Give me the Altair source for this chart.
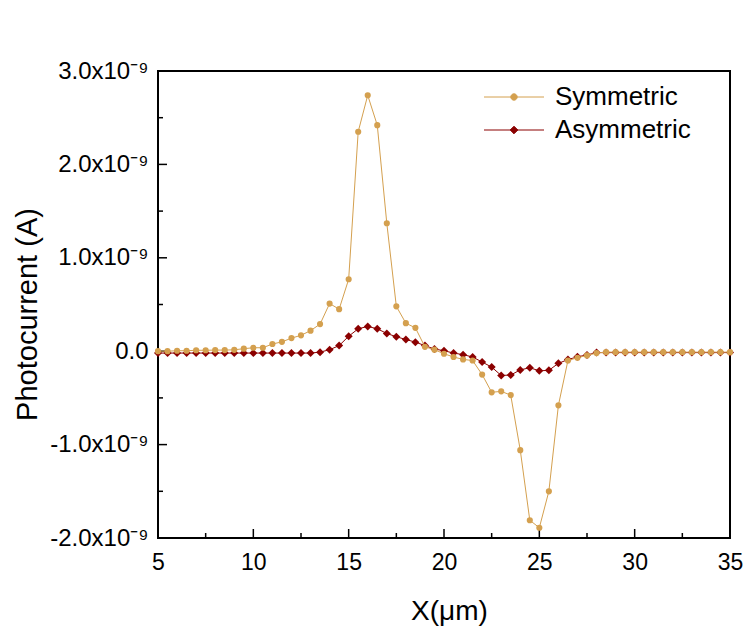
import altair as alt
import pandas as pd

# ---- data (values in units of 1e-9 A) ----
x_um = [5 + 0.5 * i for i in range(61)]
symmetric_e9 = [
    0.0, 0.0, 0.005, 0.005, 0.01, 0.01, 0.012, 0.012, 0.015, 0.027,
    0.037, 0.037, 0.077, 0.10, 0.14, 0.17, 0.22, 0.29, 0.51, 0.45,
    0.77, 2.35, 2.74, 2.42, 1.37, 0.48, 0.30, 0.25, 0.047, 0.016,
    -0.027, -0.062, -0.088, -0.10, -0.25, -0.44, -0.43, -0.47, -1.06, -1.81,
    -1.89, -1.50, -0.58, -0.10, -0.07, -0.045, -0.02,
    -0.01, -0.01, -0.01, -0.01, -0.01, -0.01, -0.01, -0.01, -0.01, -0.01,
    -0.01, -0.01, -0.01, -0.01,
]
asymmetric_e9 = [
    -0.02, -0.02, -0.02, -0.02, -0.02, -0.02, -0.02, -0.02, -0.02, -0.02,
    -0.02, -0.02, -0.02, -0.02, -0.02, -0.02, -0.02, -0.01,
    0.016, 0.06, 0.16, 0.24, 0.265, 0.24, 0.19, 0.155, 0.125, 0.097,
    0.06, 0.023, 0.005, -0.02, -0.037, -0.062, -0.116, -0.17, -0.26, -0.255,
    -0.20, -0.177, -0.21, -0.205, -0.13, -0.09, -0.06, -0.04,
    -0.015, -0.015, -0.015, -0.015, -0.015, -0.015, -0.015, -0.015, -0.015,
    -0.015, -0.015, -0.015, -0.015, -0.015, -0.015,
]
SERIES = ["Symmetric", "Asymmetric"]
COLORS = ["#D4A04F", "#8B0000"]
x_major = [5, 10, 15, 20, 25, 30, 35]
x_minor = [7.5, 12.5, 17.5, 22.5, 27.5, 32.5]
y_major_e9 = [-2, -1, 0, 1, 2, 3]
y_minor_e9 = [-1.5, -0.5, 0.5, 1.5, 2.5]

rows = []
for s, vals in ((SERIES[0], symmetric_e9), (SERIES[1], asymmetric_e9)):
    for xv, v in zip(x_um, vals):
        rows.append({"x": xv, "y": v * 1e-9, "series": s})
df = pd.DataFrame(rows)

FONT = "Liberation Sans"
W, H = 572, 467

xscale = alt.Scale(domain=[5, 35], nice=False, zero=False)
yscale = alt.Scale(domain=[-2e-9, 3e-9], nice=False, zero=False)

XAX = alt.Axis(
    values=x_major, title="X(μm)", ticks=False, tickSize=0, domain=False, grid=False,
    labelFontSize=23, labelPadding=13, labelFont=FONT, labelColor="black",
    labelFlush=False, format="d",
    titleFontSize=28, titleFont=FONT, titleFontWeight="normal", titleColor="black",
    titleX=291, titleY=81, titleBaseline="alphabetic", titleAlign="center",
)
YAX = alt.Axis(
    values=[v * 1e-9 for v in y_major_e9], title="Photocurrent (A)",
    ticks=False, tickSize=0, domain=False, grid=False,
    labelExpr="datum.value == 0 ? '0.0' : (datum.value < 0 ? '-' : '') + format(abs(datum.value) * 1e9, '.1f') + 'x10⁻⁹'",
    labelFontSize=24, labelPadding=10, labelFont=FONT, labelColor="black", labelFlush=False,
    titleFontSize=29, titleFont=FONT, titleFontWeight="normal", titleColor="black",
    titleX=-122, titleY=243, titleBaseline="alphabetic", titleAlign="center", titleAngle=270,
)

color_scale = alt.Scale(domain=SERIES, range=COLORS)
X = alt.X("x:Q", scale=xscale, axis=XAX)
Y = alt.Y("y:Q", scale=yscale, axis=YAX)

base = alt.Chart(df)


def series_layers(name, shape, size):
    d = base.transform_filter(alt.datum.series == name)
    line = d.mark_line(strokeWidth=1).encode(
        x=X, y=Y, color=alt.Color("series:N", scale=color_scale, legend=None)
    )
    pts = d.mark_point(filled=True, shape=shape, size=size, opacity=1).encode(
        x=X, y=Y, color=alt.Color("series:N", scale=color_scale, legend=None)
    )
    return [line, pts]


# legend (symbols: line with marker); the layer's own marks are invisible
circ = "M-6,0H6M-0.64,0A0.64,0.64,0,1,1,0.64,0A0.64,0.64,0,1,1,-0.64,0Z"
diam = "M-6,0H6M0,-0.76L0.76,0L0,0.76L-0.76,0Z"
LEG = alt.Legend(
    orient="none", legendX=343, legendY=13, title=None, padding=0,
    labelFontSize=26, labelFont=FONT, labelColor="black", labelOffset=28,
    symbolSize=100, symbolStrokeWidth=1, symbolOpacity=1, rowPadding=7,
)
legend_layer = base.mark_point(opacity=0, strokeWidth=1, size=100).encode(
    x=X, y=Y,
    fill=alt.Fill("series:N", scale=alt.Scale(domain=SERIES, range=COLORS), legend=LEG),
    stroke=alt.Stroke("series:N", scale=alt.Scale(domain=SERIES, range=COLORS), legend=LEG),
    shape=alt.Shape("series:N", scale=alt.Scale(domain=SERIES, range=[circ, diam]), legend=LEG),
)

# inward ticks
xmaj = alt.Chart(pd.DataFrame({"x": x_major})).mark_rule(color="black", strokeWidth=1.5).encode(
    x=X, y=alt.value(H), y2=alt.value(H - 9))
xmin = alt.Chart(pd.DataFrame({"x": x_minor})).mark_rule(color="black", strokeWidth=1.5).encode(
    x=X, y=alt.value(H), y2=alt.value(H - 5))
ymaj = alt.Chart(pd.DataFrame({"y": [v * 1e-9 for v in y_major_e9]})).mark_rule(color="black", strokeWidth=1.5).encode(
    y=Y, x=alt.value(0), x2=alt.value(9))
ymin = alt.Chart(pd.DataFrame({"y": [v * 1e-9 for v in y_minor_e9]})).mark_rule(color="black", strokeWidth=1.5).encode(
    y=Y, x=alt.value(0), x2=alt.value(5))

layers = [legend_layer, xmaj, xmin, ymaj, ymin]
layers += series_layers("Asymmetric", "diamond", 64)
layers += series_layers("Symmetric", "circle", 38)

chart = alt.layer(*layers).properties(
    width=W, height=H,
    autosize=alt.AutoSizeParams(type="none"),
    padding={"left": 150, "top": 63, "right": 15, "bottom": 88},
    background="white",
).configure_view(stroke="black", strokeWidth=2)

chart.save("out.html", embed_options={"renderer": "svg", "actions": False})
